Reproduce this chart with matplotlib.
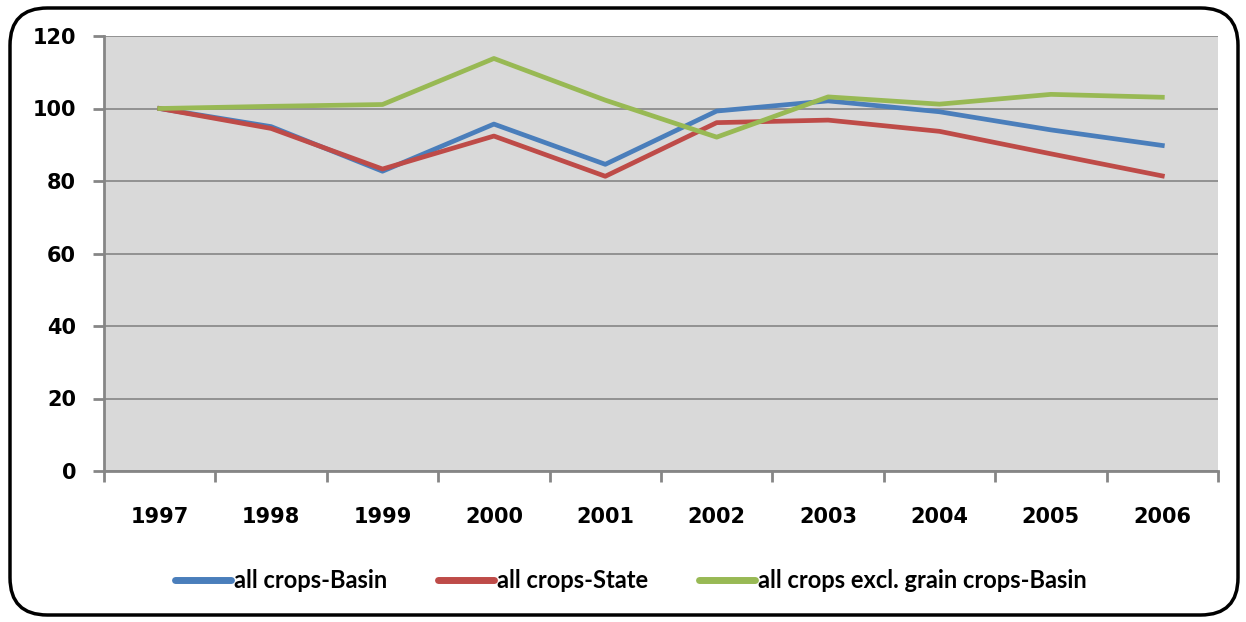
import matplotlib.pyplot as plt
from matplotlib.patches import FancyBboxPatch

years = ["1997", "1998", "1999", "2000", "2001", "2002", "2003", "2004", "2005", "2006"]
basin = [100, 95.0, 82.7, 95.7, 84.6, 99.3, 102.1, 99.1, 94.1, 89.8]
state = [100, 94.5, 83.3, 92.4, 81.3, 96.1, 96.8, 93.7, 87.5, 81.4]
excl_grain = [100, 100.6, 101.1, 113.8, 102.3, 92.1, 103.2, 101.2, 103.9, 103.1]

fig = plt.figure(figsize=(12.46, 6.22), dpi=100)
ax = fig.add_axes([104 / 1246, 151 / 622, 1114 / 1246, 435 / 622])
ax.set_facecolor("#D9D9D9")

x = list(range(len(years)))
ax.plot(x, basin, color="#4A7EBB", linewidth=3.4, label="all crops-Basin", zorder=3)
ax.plot(x, state, color="#BE4B48", linewidth=3.4, label="all crops-State", zorder=3)
ax.plot(x, excl_grain, color="#98B954", linewidth=3.4, label="all crops excl. grain crops-Basin", zorder=3)

ax.set_xlim(-0.5, len(years) - 0.5)
ax.set_ylim(0, 120)
ax.set_yticks(range(0, 121, 20))
ax.yaxis.grid(True, color="#868686", linewidth=1.2)
ax.set_axisbelow(True)

# category labels centred, tick marks on the category boundaries
ax.set_xticks(x)
ax.set_xticklabels(years)
ax.set_xticks([i - 0.5 for i in range(len(years) + 1)], minor=True)
ax.tick_params(axis="x", which="major", length=0, pad=26)
ax.tick_params(axis="x", which="minor", length=8, width=2, color="#868686")
ax.tick_params(axis="y", length=8, width=2, color="#868686", pad=12)

for lab in ax.get_xticklabels() + ax.get_yticklabels():
    lab.set_fontsize(15)
    lab.set_fontweight("bold")

for side in ["top", "right"]:
    ax.spines[side].set_visible(False)
for side in ["left", "bottom"]:
    ax.spines[side].set_color("#868686")
    ax.spines[side].set_linewidth(2)

leg = fig.legend(loc="center", bbox_to_anchor=(631 / 1246, 1 - 581 / 622), ncol=3,
                 frameon=False, handlelength=2.37, columnspacing=2.16, handletextpad=0.13,
                 prop={"family": ["Lato", "DejaVu Sans"], "size": 17, "weight": "bold"})
for h in leg.get_lines():
    h.set_linewidth(5)
    h.set_solid_capstyle("round")

# rounded frame around the whole chart
frame = FancyBboxPatch((10 / 1246, 7 / 622), 1228 / 1246, 607 / 622,
                       boxstyle="round,pad=0,rounding_size=0.03",
                       transform=fig.transFigure, facecolor="none",
                       edgecolor="black", linewidth=2.5, mutation_aspect=2.0)
fig.patches.append(frame)

fig.savefig("out.png", dpi=100)
